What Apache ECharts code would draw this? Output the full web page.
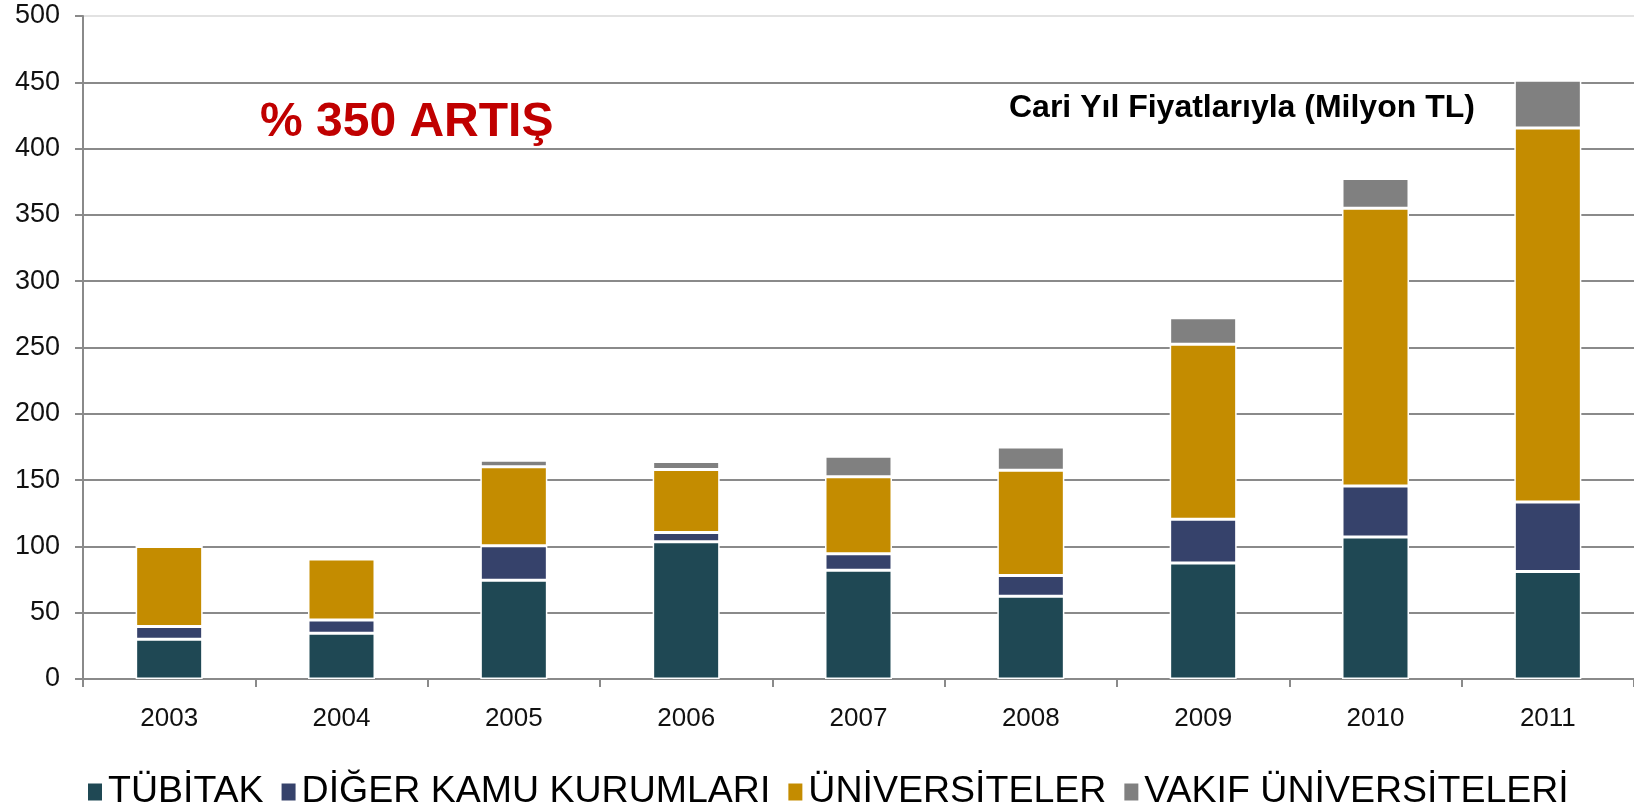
<!DOCTYPE html>
<html>
<head>
<meta charset="utf-8">
<script src="https://cdn.jsdelivr.net/npm/echarts@6/dist/echarts.min.js"></script>
<style>
html,body{margin:0;padding:0;background:#fff;}
#c{width:1634px;height:811px;}
</style>
</head>
<body>
<div id="c"></div>
<script>
const categories = ['2003','2004','2005','2006','2007','2008','2009','2010','2011'];
const tubitak = [30, 34.5, 74.5, 103.5, 82, 62.5, 87.5, 107, 81];
const digerKamu = [9.5, 10, 26, 7, 12.5, 15.5, 33, 38.5, 52.5];
const universiteler = [60.5, 46, 59.5, 47.5, 58, 79.5, 132, 209.5, 282];
const vakifUniversiteleri = [0, 0, 5, 6, 15.5, 17.5, 20, 22.5, 36];
const seriesNames = ['TÜBİTAK', 'DİĞER KAMU KURUMLARI', 'ÜNİVERSİTELER', 'VAKIF ÜNİVERSİTELERİ'];
const yTicks = [0,50,100,150,200,250,300,350,400,450,500];

const FONT = '"Liberation Sans", Arial, sans-serif';
const colors = ['#1f4854', '#36426b', '#c48c00', '#808080'];
const gridColors = yTicks.map((v) => v === 500 ? '#e2e2e2' : '#8a8a8a');

const chart = echarts.init(document.getElementById('c'), null, {renderer: 'canvas'});
function bar(name, data, color) {
  return {
    name: name, type: 'bar', stack: 'total', data: data,
    barWidth: 67,
    itemStyle: {color: color, borderColor: '#ffffff', borderWidth: 1.5},
    emphasis: {disabled: true}
  };
}
chart.setOption({
  animation: false,
  color: colors,
  grid: {left: 83, right: 0, top: 16, bottom: 132, containLabel: false},
  legend: {
    left: 86, top: 773, padding: 0,
    icon: 'rect', itemWidth: 16, itemHeight: 19, itemGap: 16,
    textStyle: {fontFamily: FONT, fontSize: 37.5, color: '#000'},
    data: seriesNames
  },
  xAxis: {
    type: 'category', data: categories,
    axisLine: {lineStyle: {color: '#8a8a8a', width: 2}},
    axisTick: {show: true, length: 8, lineStyle: {color: '#8a8a8a', width: 2}},
    axisLabel: {fontFamily: FONT, fontSize: 26, color: '#111', margin: 27}
  },
  yAxis: {
    type: 'value', min: 0, max: 500, interval: 50,
    axisLine: {show: true, lineStyle: {color: '#8a8a8a', width: 2}},
    axisTick: {show: true, length: 8, lineStyle: {color: '#8a8a8a', width: 2}},
    axisLabel: {fontFamily: FONT, fontSize: 27, color: '#111', margin: 23},
    splitLine: {show: true, lineStyle: {color: gridColors, width: 2}}
  },
  graphic: [
    {type: 'text', left: 260, top: 99,
     style: {text: '% 350 ARTIŞ', font: 'bold 48px ' + FONT, fill: '#c00000'}},
    {type: 'text', left: 1009, top: 92,
     style: {text: 'Cari Yıl Fiyatlarıyla (Milyon TL)', font: 'bold 32px ' + FONT, fill: '#000'}}
  ],
  series: [
    bar(seriesNames[0], tubitak, colors[0]),
    bar(seriesNames[1], digerKamu, colors[1]),
    bar(seriesNames[2], universiteler, colors[2]),
    bar(seriesNames[3], vakifUniversiteleri, colors[3])
  ]
});
</script>
</body>
</html>
